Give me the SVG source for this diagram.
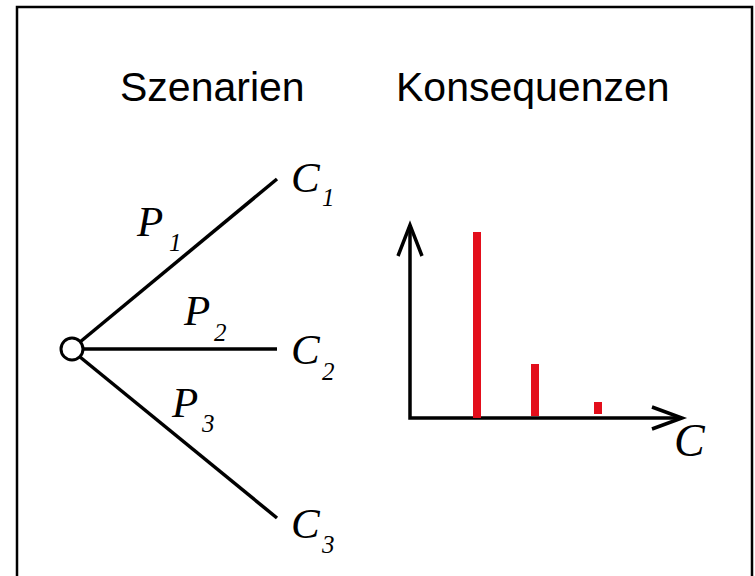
<svg xmlns="http://www.w3.org/2000/svg" width="755" height="576" viewBox="0 0 755 576">
<style>
.title{font-family:"Liberation Sans",Arial,sans-serif;font-size:41px;fill:#000}
.math{font-family:"Liberation Serif","Times New Roman",serif;font-style:italic;fill:#000}
.big{font-size:43px}
.sub{font-size:25px}
.ln{stroke:#000;stroke-width:3.5;fill:none}
.bar{fill:#e30e1b}
</style>
<rect x="0" y="0" width="755" height="576" fill="#fff"/>
<rect id="frame" x="17" y="7" width="735" height="600" fill="none" stroke="#000" stroke-width="2.5"/>
<g id="titles">
<text class="title" x="120" y="101">Szenarien</text>
<text class="title" x="396" y="101">Konsequenzen</text>
</g>
<g id="connectors">
<line class="ln" x1="80" y1="342" x2="277" y2="179"/>
<line class="ln" x1="83" y1="349" x2="277" y2="349"/>
<line class="ln" x1="80" y1="357" x2="277" y2="518"/>
</g>
<g id="root"><circle cx="72" cy="349" r="11" fill="#fff" stroke="#000" stroke-width="3"/></g>
<g id="p1"><text class="math big" x="137" y="236">P</text><text class="math sub" x="169" y="251">1</text></g>
<g id="p2"><text class="math big" x="184" y="325">P</text><text class="math sub" x="214" y="341">2</text></g>
<g id="p3"><text class="math big" x="172" y="417">P</text><text class="math sub" x="202" y="432">3</text></g>
<g id="c1"><text class="math big" x="291" y="192">C</text><text class="math sub" x="322" y="206">1</text></g>
<g id="c2"><text class="math big" x="291" y="364">C</text><text class="math sub" x="322" y="380">2</text></g>
<g id="c3"><text class="math big" x="291" y="538">C</text><text class="math sub" x="322" y="553">3</text></g>
<g id="chart">
<polyline class="ln" points="410,226 410,418 681,418"/>
<polyline class="ln" points="398,256 410,225 422,256"/>
<polyline class="ln" points="652,407 682,418 652,429"/>
<rect class="bar" x="473" y="232" width="8" height="186"/>
<rect class="bar" x="531" y="364" width="8" height="52"/>
<rect class="bar" x="594" y="402" width="8" height="12"/>
<text class="math" x="674" y="456" font-size="46">C</text>
</g>
</svg>
